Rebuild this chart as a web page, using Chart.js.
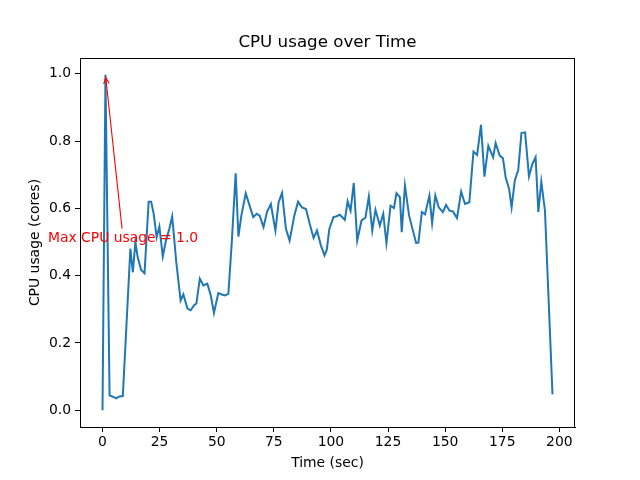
<!DOCTYPE html>
<html>
<head>
<meta charset="utf-8">
<script src="https://cdn.jsdelivr.net/npm/chart.js@4.4.1/dist/chart.umd.min.js"></script>
<style>
  html, body { margin: 0; padding: 0; background: #fff; }
  #wrap { width: 640px; height: 480px; }
</style>
</head>
<body>
<div id="wrap"><canvas id="cpuChart" width="640" height="480"></canvas></div>
<script>
// Data
const timeSec = [0, 1.3, 3.1, 4.5, 6.0, 7.4, 8.9, 12.2, 13.3, 14.4, 15.4, 16.9, 18.4, 20.2, 21.3, 22.4, 23.7, 24.9, 26.4, 27.8,
  29.3, 30.5, 32.3, 34.2, 35.4, 37.2, 38.6, 40.1, 41.1, 42.6, 44.2, 45.9, 47.4, 48.8, 50.7, 52.2, 53.6, 55.1, 56.6, 58.3,
  59.5, 60.8, 62.7, 64.4, 66.0, 67.5, 68.8, 70.5, 72.0, 73.7, 75.7, 77.1, 78.6, 80.3, 81.9, 84.0, 85.6, 87.3, 89.1, 90.7,
  92.4, 93.9, 95.6, 97.2, 98.2, 99.3, 101.1, 102.2, 103.9, 106.1, 107.3, 108.6, 110.0, 111.5, 113.4, 115.1, 116.6, 118.1, 119.5, 121.4,
  122.9, 124.3, 126.1, 127.6, 128.7, 130.2, 131.0, 132.4, 134.2, 135.7, 137.3, 138.3, 139.8, 141.2, 143.1, 144.3, 145.7, 147.2, 149.0, 150.4,
  151.9, 153.4, 155.2, 157.0, 158.7, 160.6, 162.4, 164.0, 165.7, 167.2, 168.9, 171.0, 172.1, 173.9, 175.3, 176.5, 178.0, 179.1, 180.5, 182.0,
  183.4, 185.0, 186.7, 188.2, 189.6, 190.8, 192.1, 193.7, 197.0];
const cpuCores = [0.0, 0.997, 0.044, 0.040, 0.035, 0.041, 0.042, 0.48, 0.41, 0.50, 0.455, 0.417, 0.407, 0.62, 0.62, 0.584, 0.514, 0.546, 0.457, 0.505,
  0.54, 0.576, 0.44, 0.326, 0.344, 0.302, 0.297, 0.312, 0.317, 0.391, 0.371, 0.376, 0.341, 0.289, 0.348, 0.344, 0.341, 0.346, 0.50, 0.704,
  0.516, 0.579, 0.645, 0.608, 0.574, 0.584, 0.578, 0.544, 0.589, 0.613, 0.534, 0.618, 0.646, 0.539, 0.504, 0.579, 0.62, 0.603, 0.598, 0.554,
  0.512, 0.534, 0.49, 0.46, 0.477, 0.539, 0.574, 0.576, 0.581, 0.566, 0.621, 0.593, 0.675, 0.504, 0.564, 0.572, 0.635, 0.534, 0.596, 0.549,
  0.584, 0.497, 0.608, 0.601, 0.645, 0.633, 0.529, 0.668, 0.579, 0.539, 0.497, 0.498, 0.589, 0.582, 0.638, 0.556, 0.638, 0.603, 0.589, 0.61,
  0.593, 0.591, 0.571, 0.65, 0.613, 0.618, 0.769, 0.759, 0.848, 0.694, 0.786, 0.752, 0.794, 0.757, 0.749, 0.692, 0.658, 0.603, 0.683, 0.714,
  0.824, 0.826, 0.695, 0.732, 0.752, 0.589, 0.68, 0.593, 0.047];
const xTicks = [0, 25, 50, 75, 100, 125, 150, 175, 200];
const yTicks = [0.0, 0.2, 0.4, 0.6, 0.8, 1.0];

const FONT = 'DejaVu Sans';

// Max point for the annotation
const maxIdx = cpuCores.indexOf(Math.max(...cpuCores));
const annotText = 'Max CPU usage = 1.0';

// Frame, title, axis labels and arrow annotation (matplotlib style)
const decorPlugin = {
    id: 'decor',
    beforeDraw(chart) {
        const ctx = chart.ctx;
        ctx.save();
        ctx.fillStyle = '#fff';
        ctx.fillRect(0, 0, chart.width, chart.height);
        ctx.restore();
    },
    afterDraw(chart) {
        const ctx = chart.ctx;
        const a = chart.chartArea;
        const xs = chart.scales.x;
        const ys = chart.scales.y;
        ctx.save();

        // frame
        ctx.strokeStyle = '#000';
        ctx.lineWidth = 1;
        ctx.strokeRect(Math.round(a.left) + 0.5, Math.round(a.top) + 0.5,
            Math.round(a.right - a.left) - 1, Math.round(a.bottom - a.top));

        // title
        ctx.fillStyle = '#000';
        ctx.textAlign = 'center';
        ctx.textBaseline = 'middle';
        ctx.font = '16.7px "' + FONT + '"';
        ctx.fillText('CPU usage over Time', (a.left + a.right) / 2, 43);

        // axis labels
        ctx.font = '13.9px "' + FONT + '"';
        ctx.fillText('Time (sec)', (a.left + a.right) / 2, 463);
        ctx.translate(35, (a.top + a.bottom) / 2);
        ctx.rotate(-Math.PI / 2);
        ctx.fillText('CPU usage (cores)', 0, 0);
        ctx.setTransform(1, 0, 0, 1, 0, 0);

        // annotation text
        const tx = xs.getPixelForValue(9.0);
        const ty = ys.getPixelForValue(0.51);
        ctx.fillStyle = 'red';
        ctx.fillText(annotText, tx, ty);

        // arrow from text to max point
        const px = xs.getPixelForValue(timeSec[maxIdx]);
        const py = ys.getPixelForValue(cpuCores[maxIdx]);
        const sx = tx - 1, sy = ty - 10;
        const ang = Math.atan2(py - sy, px - sx);
        const ex = px - Math.cos(ang) * 2.5, ey = py - Math.sin(ang) * 2.5;
        ctx.strokeStyle = 'red';
        ctx.lineWidth = 1.1;
        ctx.beginPath();
        ctx.moveTo(sx, sy);
        ctx.lineTo(ex, ey);
        const hl = 7, ha = 0.4;
        ctx.moveTo(ex - hl * Math.cos(ang - ha), ey - hl * Math.sin(ang - ha));
        ctx.lineTo(ex, ey);
        ctx.lineTo(ex - hl * Math.cos(ang + ha), ey - hl * Math.sin(ang + ha));
        ctx.stroke();

        ctx.restore();
    }
};

new Chart(document.getElementById('cpuChart'), {
    type: 'line',
    data: {
        datasets: [{
            label: 'CPU usage',
            data: timeSec.map((t, i) => ({ x: t, y: cpuCores[i] })),
            borderColor: '#1f77b4',
            borderWidth: 2,
            pointRadius: 0,
            tension: 0,
            fill: false
        }]
    },
    options: {
        responsive: false,
        animation: false,
        devicePixelRatio: 1,
        layout: { padding: { top: 58, right: 65, left: 0, bottom: 0 } },
        plugins: {
            legend: { display: false },
            tooltip: { enabled: false },
            title: { display: false }
        },
        scales: {
            x: {
                type: 'linear',
                min: -9.85,
                max: 206.85,
                afterBuildTicks: s => { s.ticks = xTicks.map(v => ({ value: v })); },
                afterFit: s => { s.height = 53; },
                ticks: {
                    color: '#000',
                    font: { family: FONT, size: 13.9 },
                    padding: 2,
                    maxRotation: 0,
                    autoSkip: false,
                    callback: v => String(v)
                },
                grid: { display: true, drawOnChartArea: false, drawTicks: true, tickLength: 5, color: '#000' },
                border: { display: true, color: '#000' }
            },
            y: {
                type: 'linear',
                min: -0.05,
                max: 1.047,
                afterBuildTicks: s => { s.ticks = yTicks.map(v => ({ value: v })); },
                afterFit: s => { s.width = 80; },
                ticks: {
                    color: '#000',
                    font: { family: FONT, size: 13.9 },
                    padding: 4,
                    autoSkip: false,
                    callback: v => Number(v).toFixed(1)
                },
                grid: { display: true, drawOnChartArea: false, drawTicks: true, tickLength: 5, color: '#000' },
                border: { display: true, color: '#000' }
            }
        }
    },
    plugins: [decorPlugin]
});
</script>
</body>
</html>
